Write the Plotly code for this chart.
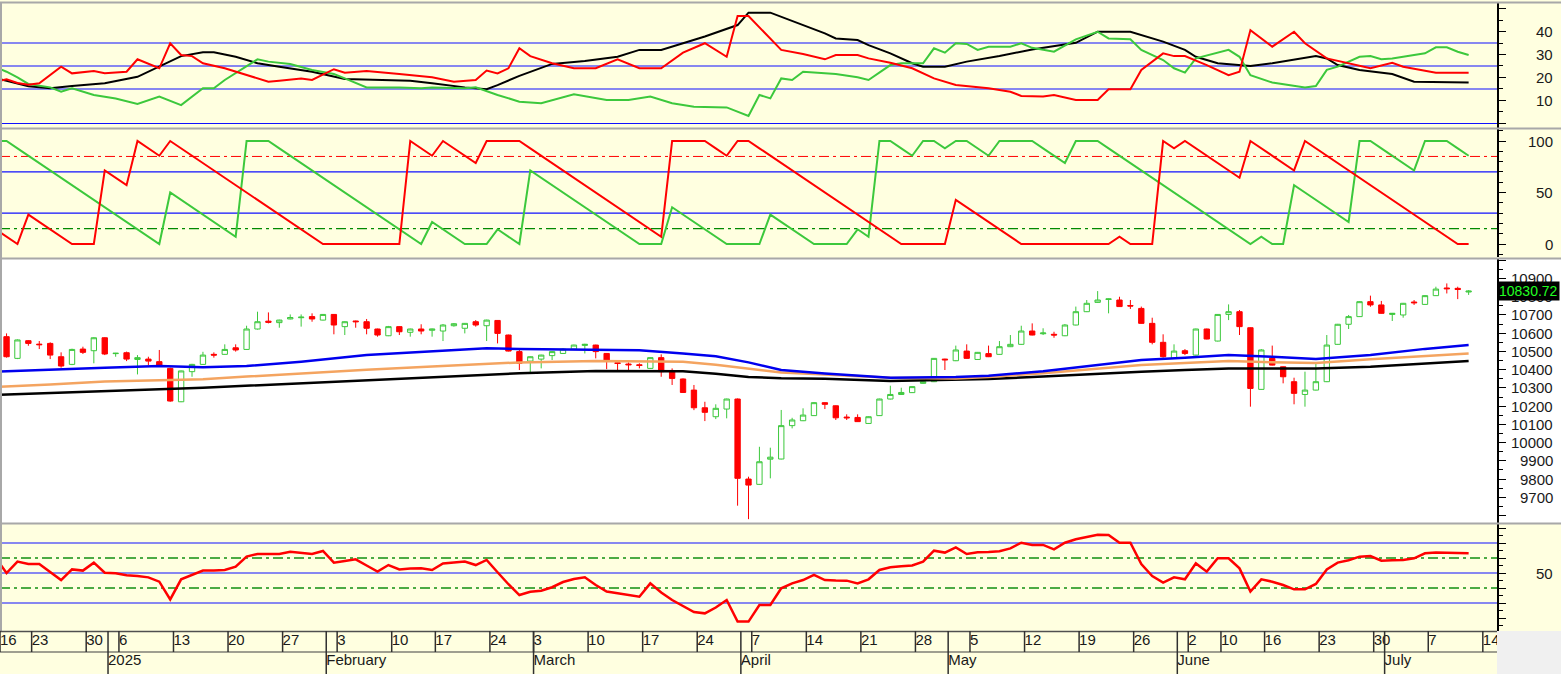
import plotly.graph_objects as go

W, H = 1561, 674
FONT = "Liberation Sans, Arial, sans-serif"

# ---------------- price data (one entry per trading day) ----------------
open_ = [10581, 10462, 10559, 10540, 10544, 10471, 10429, 10513, 10504, 10575,
         10488, 10493, 10456, 10458, 10444, 10407, 10224, 10389, 10429, 10484,
         10484, 10520, 10511, 10623, 10666, 10658, 10678, 10685, 10691, 10672,
         10703, 10636, 10667, 10663, 10623, 10586, 10636, 10605, 10623, 10616,
         10612, 10641, 10627, 10663, 10641, 10670, 10590, 10499, 10447, 10458,
         10477, 10489, 10513, 10533, 10535, 10489, 10438, 10431, 10427, 10407,
         10466, 10393, 10349, 10288, 10191, 10142, 10184, 10239, 9800, 9771,
         9909, 9910, 10093, 10120, 10148, 10219, 10202, 10140, 10138, 10105,
         10148, 10239, 10264, 10274, 10325, 10334, 10458, 10449, 10502, 10456,
         10488, 10484, 10526, 10539, 10612, 10597, 10594, 10586, 10645, 10718,
         10769, 10785, 10782, 10752, 10736, 10654, 10550, 10462, 10504, 10480,
         10623, 10557, 10703, 10718, 10630, 10292, 10462, 10416, 10334, 10264,
         10288, 10334, 10539, 10649, 10691, 10773, 10755, 10703, 10700, 10771,
         10758, 10806, 10848, 10846, 10826]
high_ = [10599, 10566, 10562, 10557, 10550, 10495, 10515, 10526, 10578, 10578,
         10492, 10499, 10480, 10471, 10508, 10411, 10395, 10432, 10498, 10495,
         10539, 10539, 10641, 10718, 10714, 10674, 10703, 10703, 10709, 10705,
         10705, 10665, 10669, 10678, 10625, 10640, 10638, 10625, 10649, 10625,
         10650, 10656, 10656, 10672, 10674, 10672, 10592, 10510, 10473, 10482,
         10501, 10518, 10537, 10542, 10537, 10491, 10440, 10440, 10435, 10468,
         10484, 10407, 10352, 10316, 10224, 10210, 10241, 10242, 9813, 9977,
         9972, 10179, 10136, 10188, 10222, 10221, 10204, 10155, 10155, 10144,
         10241, 10312, 10301, 10309, 10336, 10464, 10460, 10532, 10539, 10497,
         10532, 10557, 10590, 10641, 10654, 10627, 10608, 10650, 10746, 10782,
         10831, 10790, 10800, 10782, 10746, 10685, 10594, 10539, 10513, 10625,
         10625, 10705, 10758, 10727, 10632, 10513, 10532, 10418, 10356, 10389,
         10434, 10590, 10651, 10700, 10775, 10806, 10777, 10711, 10766, 10782,
         10808, 10855, 10873, 10855, 10836]
low_ = [10466, 10458, 10531, 10513, 10458, 10411, 10425, 10486, 10435, 10480,
        10471, 10447, 10374, 10425, 10416, 10224, 10222, 10361, 10427, 10466,
        10482, 10499, 10509, 10620, 10654, 10630, 10676, 10636, 10663, 10670,
        10594, 10590, 10630, 10594, 10581, 10584, 10590, 10581, 10594, 10581,
        10557, 10636, 10599, 10636, 10557, 10544, 10500, 10398, 10385, 10407,
        10453, 10487, 10511, 10489, 10462, 10403, 10398, 10398, 10407, 10405,
        10361, 10316, 10272, 10178, 10118, 10129, 10133, 9654, 9580, 9769,
        9804, 9908, 10078, 10118, 10146, 10184, 10124, 10124, 10113, 10103,
        10146, 10237, 10261, 10272, 10323, 10332, 10398, 10447, 10460, 10454,
        10469, 10482, 10524, 10537, 10588, 10590, 10575, 10584, 10643, 10716,
        10767, 10709, 10744, 10733, 10652, 10539, 10466, 10460, 10480, 10478,
        10566, 10555, 10672, 10590, 10197, 10290, 10423, 10325, 10210, 10197,
        10286, 10332, 10537, 10623, 10689, 10745, 10707, 10667, 10685, 10755,
        10756, 10804, 10818, 10787, 10810]
close_ = [10471, 10563, 10544, 10537, 10480, 10420, 10511, 10495, 10575, 10486,
          10490, 10458, 10466, 10447, 10422, 10228, 10393, 10429, 10480, 10480,
          10511, 10508, 10623, 10663, 10660, 10672, 10686, 10688, 10678, 10703,
          10645, 10663, 10663, 10627, 10590, 10636, 10608, 10623, 10612, 10623,
          10645, 10652, 10654, 10645, 10672, 10599, 10502, 10435, 10471, 10480,
          10499, 10513, 10535, 10539, 10499, 10453, 10434, 10427, 10423, 10466,
          10389, 10352, 10275, 10191, 10166, 10188, 10239, 9804, 9767, 9895,
          9920, 10093, 10124, 10151, 10219, 10210, 10136, 10136, 10115, 10142,
          10239, 10264, 10275, 10307, 10334, 10462, 10454, 10508, 10462, 10495,
          10471, 10526, 10539, 10612, 10590, 10601, 10590, 10645, 10718, 10764,
          10782, 10788, 10746, 10749, 10654, 10550, 10471, 10502, 10489, 10623,
          10568, 10703, 10718, 10636, 10297, 10508, 10425, 10361, 10270, 10288,
          10334, 10535, 10649, 10691, 10773, 10755, 10709, 10709, 10764, 10767,
          10806, 10842, 10844, 10840, 10830.72]
last_price = 10830.72
bars = list(range(len(close_)))

# ---------------- moving averages (read at sample days) ----------------
ma_idx = [-1, 4, 9, 14, 18, 22, 27, 33, 39, 44, 47, 54, 58, 62, 65, 68, 71, 75, 81, 87,
          90, 95, 100, 104, 108, 112, 116, 120, 125, 130, 134]
ma_fast = [10389, 10402, 10411, 10420, 10413, 10420, 10444, 10480, 10499, 10517, 10513,
           10511, 10506, 10489, 10473, 10440, 10398, 10379, 10356, 10360, 10367, 10391,
           10425, 10453, 10466, 10480, 10471, 10458, 10480, 10514, 10535]
ma_mid = [10306, 10318, 10335, 10342, 10347, 10362, 10381, 10400, 10418, 10432, 10440,
          10447, 10446, 10444, 10427, 10408, 10385, 10373, 10356, 10352, 10360, 10381,
          10405, 10425, 10436, 10447, 10441, 10436, 10457, 10475, 10489]
ma_slow = [10261, 10270, 10280, 10292, 10301, 10312, 10326, 10345, 10362, 10372, 10380,
           10393, 10393, 10392, 10378, 10360, 10353, 10350, 10338, 10345, 10349, 10362,
           10378, 10389, 10398, 10407, 10407, 10407, 10416, 10432, 10447]

# ---------------- DMI (day, value) ----------------
adx_pts = [(-1, 19.6), (0, 18.6), (2, 16.2), (4, 15.3), (6, 16.3), (9, 17.5), (12, 20.3), (14, 24.7),
           (16, 29.3), (18, 31), (19, 31), (21, 29), (23, 26.2), (25, 24.7), (28, 22.5), (31, 19.3),
           (35, 18.9), (37, 18.6), (39, 17.5), (42, 15.7), (44, 14.9), (45, 16.7), (47, 20.7),
           (50, 25.9), (53, 27.2), (56, 29), (58, 32), (60, 32), (62, 34.9), (64, 37.8), (67, 42.8),
           (68, 48.2), (70, 48.2), (72, 44.7), (75, 39.2), (76, 37), (78, 36.3), (79, 34.1),
           (81, 30.5), (83, 26.2), (84, 24.7), (86, 24.7), (88, 26.9), (91, 29.3), (94, 32.2),
           (98, 35.1), (100, 39.9), (103, 39.9), (104, 38.5), (106, 35.6), (108, 32), (109, 29),
           (111, 26.2), (113, 25.4), (114, 25), (116, 26.2), (118, 27.6), (120, 29.3), (121, 28.3),
           (122, 25.4), (124, 23.3), (127, 21.5), (129, 18.2), (134, 17.8)]
mdi_pts = [(-1, 18.2), (0, 19.2), (1, 17.6), (2, 16.8), (3, 17.5), (5, 24.7), (6, 21.8), (8, 22.8),
           (9, 21.8), (11, 22.5), (12, 27.9), (14, 24), (15, 34.9), (16, 29.8), (17, 29.3), (18, 26.2),
           (20, 24), (24, 18.2), (25, 18.6), (27, 19.6), (28, 18.9), (30, 23.6), (31, 22.1),
           (33, 22.8), (36, 21.5), (39, 20.1), (41, 18.2), (43, 18.9), (44, 23), (45, 21.8), (46, 24),
           (47, 32.7), (48, 29.3), (50, 26.2), (52, 24), (54, 24), (56, 27.9), (58, 24), (60, 24),
           (62, 30.8), (64, 34.9), (66, 29), (67, 46.7), (68, 46.7), (71, 32), (73, 30.2), (75, 27.9),
           (76, 29.8), (78, 29.8), (79, 28.3), (81, 26.4), (83, 24), (85, 19.6), (87, 16.7),
           (90, 15.3), (92, 13.8), (93, 12), (95, 11.7), (96, 12.4), (98, 10.2), (100, 10.2),
           (101, 14.9), (103, 14.9), (104, 23.3), (106, 30.5), (107, 29.3), (108, 29.3), (110, 25.4),
           (112, 21), (113, 22.5), (114, 40.6), (116, 33.4), (118, 39.9), (119, 34.9), (121, 28.3),
           (123, 26.2), (125, 24), (127, 26.4), (128, 24.7), (131, 22.1), (134, 22.1)]
pdi_pts = [(-1, 24.5), (0, 22.5), (1, 20), (2, 17.2), (4, 15.7), (5, 13.8), (6, 15.3), (8, 12.4),
           (10, 10.9), (12, 8.5), (14, 11.7), (16, 8), (18, 15.3), (19, 15.3), (20, 18.9), (21, 21.8),
           (23, 27.9), (24, 26.9), (26, 25.9), (28, 23.3), (30, 21.5), (31, 19.6), (33, 15.7),
           (36, 15.7), (38, 15.3), (39, 15.7), (42, 15.3), (43, 15.7), (45, 12.4), (47, 9.5),
           (49, 8.8), (52, 12.7), (55, 10.2), (57, 10.2), (59, 11.7), (61, 8.8), (63, 7.3), (66, 7),
           (68, 3.3), (69, 12.4), (70, 10.9), (71, 19.6), (72, 18.9), (73, 22.5), (76, 21.5),
           (78, 20.1), (79, 18.9), (81, 25.4), (82, 26.2), (84, 26.2), (85, 32.7), (86, 30.8),
           (87, 34.9), (88, 34.6), (89, 32), (90, 33.4), (92, 33.4), (93, 34.9), (94, 32.9),
           (96, 31.2), (98, 36.6), (100, 39.9), (101, 37), (103, 36.6), (104, 32), (106, 27.6),
           (107, 24), (108, 22.1), (109, 28.3), (112, 32), (113, 29), (114, 21), (116, 17.8),
           (119, 15.7), (120, 16.3), (121, 23.3), (122, 24.7), (124, 29), (125, 29.3), (126, 27.9),
           (127, 28.3), (129, 29.8), (130, 30.5), (131, 33.1), (132, 33.1), (133, 31.2), (134, 29.8)]

# ---------------- Aroon (first value is the day before the first candle) ----------------
aroon_down = [14.3,
              7.1, 0, 28.6, 21.4, 14.3, 7.1, 0, 0, 0, 71.4,
              64.3, 57.1, 100, 92.9, 85.7, 100, 92.9, 85.7, 78.6, 71.4,
              64.3, 57.1, 50, 42.9, 35.7, 28.6, 21.4, 14.3, 7.1, 0,
              0, 0, 0, 0, 0, 0, 0, 100, 92.9, 85.7,
              100, 92.9, 85.7, 78.6, 100, 100, 100, 100, 92.9, 85.7,
              78.6, 71.4, 64.3, 57.1, 50, 42.9, 35.7, 28.6, 21.4, 14.3,
              7.1, 100, 100, 100, 100, 92.9, 85.7, 100, 100, 92.9,
              85.7, 78.6, 71.4, 64.3, 57.1, 50, 42.9, 35.7, 28.6, 21.4,
              14.3, 7.1, 0, 0, 0, 0, 0, 42.9, 35.7, 28.6,
              21.4, 14.3, 7.1, 0, 0, 0, 0, 0, 0, 0,
              0, 0, 7.1, 0, 0, 0, 100, 92.9, 100, 92.9,
              85.7, 78.6, 71.4, 64.3, 100, 92.9, 85.7, 78.6, 71.4, 100,
              92.9, 85.7, 78.6, 71.4, 64.3, 57.1, 50, 42.9, 35.7, 28.6,
              21.4, 14.3, 7.1, 0, 0]
aroon_up = [100,
            100, 92.9, 85.7, 78.6, 71.4, 64.3, 57.1, 50, 42.9, 35.7,
            28.6, 21.4, 14.3, 7.1, 0, 50, 42.9, 35.7, 28.6, 21.4,
            14.3, 7.1, 100, 100, 100, 92.9, 85.7, 78.6, 71.4, 64.3,
            57.1, 50, 42.9, 35.7, 28.6, 21.4, 14.3, 7.1, 0, 21.4,
            14.3, 7.1, 0, 0, 0, 14.3, 7.1, 0, 71.4, 64.3,
            57.1, 50, 42.9, 35.7, 28.6, 21.4, 14.3, 7.1, 0, 0,
            0, 35.7, 28.6, 21.4, 14.3, 7.1, 0, 0, 0, 0,
            28.6, 21.4, 14.3, 7.1, 0, 0, 0, 0, 14.3, 7.1,
            100, 100, 92.9, 85.7, 100, 100, 92.9, 100, 100, 92.9,
            85.7, 100, 100, 100, 100, 92.9, 85.7, 78.6, 100, 100,
            100, 92.9, 85.7, 78.6, 71.4, 64.3, 57.1, 50, 42.9, 35.7,
            28.6, 21.4, 14.3, 7.1, 0, 7.1, 0, 0, 57.1, 50,
            42.9, 35.7, 28.6, 21.4, 100, 100, 92.9, 85.7, 78.6, 71.4,
            100, 100, 100, 92.9, 85.7]

# ---------------- RSI (first value is the day before the first candle) ----------------
rsi_vals = [60, 50, 57.6, 56, 56, 50.9, 45.3, 52.4, 51.6, 56.9,
            50.2, 49.8, 48.5, 48, 47.1, 44.2, 32.4, 45.8, 48.5, 51.6,
            51.6, 52, 54.2, 60.9, 62.7, 62.7, 62.7, 64.2, 63.5, 62.7,
            64.7, 56.9, 58, 59.1, 55, 50.9, 55.3, 52.4, 53, 53.1,
            52, 56.4, 57, 57.6, 55.3, 58.7, 50.5, 42.5, 35.3, 37.5,
            38.2, 40.5, 44, 46, 47.1, 42, 37.6, 36.5, 35.5, 34.2,
            43.1, 37, 32, 28, 24, 23.1, 27, 32, 17.6, 17.6,
            28.7, 28.7, 39.8, 43.1, 45.3, 48.7, 45.3, 45, 44.9, 43.1,
            45.8, 52, 53.8, 54.5, 55, 57.6, 64.9, 63.6, 67.1, 62.7,
            63.8, 64, 64.5, 66.4, 70.2, 68.7, 68.7, 65.8, 70.2, 72.5,
            74.2, 75.5, 75.3, 70.2, 70.2, 56, 48, 43.6, 47.1, 45.8,
            56.4, 50.9, 59.8, 59.8, 53.1, 37.6, 45.8, 44.2, 42, 39.1,
            39.1, 42.7, 52.4, 56.9, 58.5, 60.9, 61.3, 58.2, 58.5, 58.7,
            59.8, 63.1, 63.6, 63.3, 63.1, 63.1]

# ---------------- axis labels ----------------
week_idx = [-1, 2, 7, 10, 15, 20, 25, 30, 35, 39, 44, 48, 53, 58, 63, 68, 73, 78, 83, 88,
            93, 98, 103, 108, 111, 115, 120, 125, 130, 135]
week_lbl = ["16", "23", "30", "6", "13", "20", "27", "3", "10", "17", "24", "3", "10", "17",
            "24", "7", "14", "21", "28", "5", "12", "19", "26", "2", "10", "16", "23", "30",
            "7", "14"]
month_idx = [9, 29, 48, 67, 86, 107, 126]
month_lbl = ["2025", "February", "March", "April", "May", "June", "July"]

dmi_ticks = [10, 20, 30, 40]
aroon_ticks = [0, 50, 100]
price_ticks = [9700, 9800, 9900, 10000, 10100, 10200, 10300, 10400, 10500, 10600, 10700, 10800, 10900]
rsi_ticks = [50]

# ---------------- geometry ----------------
def py(y):
    return 1 - y / H

X0, X1 = -0.6, 136.6
XDOM = 1497 / W
YELLOW = "#ffffe0"
GREEN = "#3cc83c"
RED = "#ff0000"
BLUE = "#1010ff"

fig = go.Figure()

# candles + moving averages
fig.add_trace(go.Candlestick(
    x=bars, open=open_, high=high_, low=low_, close=close_, xaxis="x", yaxis="y3",
    increasing=dict(line=dict(color=GREEN, width=1), fillcolor="#ffffff"),
    decreasing=dict(line=dict(color=RED, width=1), fillcolor=RED),
    whiskerwidth=0, hoverinfo="skip", showlegend=False))
for vals, col in [(ma_slow, "#000000"), (ma_mid, "#f4a460"), (ma_fast, "#0000ee")]:
    fig.add_trace(go.Scatter(x=ma_idx, y=vals, mode="lines", xaxis="x", yaxis="y3",
                             line=dict(color=col, width=2.5), hoverinfo="skip"))

# DMI
for pts, col in [(adx_pts, "#000000"), (pdi_pts, GREEN), (mdi_pts, RED)]:
    fig.add_trace(go.Scatter(x=[p[0] for p in pts], y=[p[1] for p in pts], mode="lines",
                             xaxis="x", yaxis="y", line=dict(color=col, width=2), hoverinfo="skip"))

# Aroon
aroon_x = list(range(-1, len(aroon_up) - 1))
fig.add_trace(go.Scatter(x=aroon_x, y=aroon_up, mode="lines", xaxis="x", yaxis="y2",
                         line=dict(color=GREEN, width=2), hoverinfo="skip"))
fig.add_trace(go.Scatter(x=aroon_x, y=aroon_down, mode="lines", xaxis="x", yaxis="y2",
                         line=dict(color=RED, width=2), hoverinfo="skip"))

# RSI
rsi_x = list(range(-1, len(rsi_vals) - 1))
fig.add_trace(go.Scatter(x=rsi_x, y=rsi_vals, mode="lines", xaxis="x", yaxis="y4",
                         line=dict(color=RED, width=2.5), hoverinfo="skip"))

# date labels (text traces, clipped by the plot area)
OFF = 0.3
wk_x = [max(i + OFF, X0) for i in week_idx]
fig.add_trace(go.Scatter(x=wk_x, y=[32.5] * len(wk_x), mode="text", text=week_lbl,
                         textposition="middle right", xaxis="x", yaxis="y5", cliponaxis=True,
                         textfont=dict(family=FONT, size=15, color="#1a1a1a"), hoverinfo="skip"))
mo_x = [i + OFF for i in month_idx]
fig.add_trace(go.Scatter(x=mo_x, y=[12.5] * len(mo_x), mode="text", text=month_lbl,
                         textposition="middle right", xaxis="x", yaxis="y5", cliponaxis=True,
                         textfont=dict(family=FONT, size=15, color="#1a1a1a"), hoverinfo="skip"))

shapes = []
# backgrounds
shapes.append(dict(type="rect", xref="paper", yref="paper", x0=0, x1=1, y0=py(523), y1=py(259),
                   fillcolor="#ffffff", line=dict(width=0), layer="below"))
shapes.append(dict(type="rect", xref="paper", yref="paper", x0=XDOM, x1=1, y0=0, y1=py(631),
                   fillcolor="#f0f0f0", line=dict(width=0), layer="below"))

# indicator reference lines
def hline(yref, v, color, dash="solid", width=1.2):
    shapes.append(dict(type="line", xref="x", yref=yref, x0=X0, x1=X1, y0=v, y1=v,
                       line=dict(color=color, width=width, dash=dash), layer="below"))

for v in [35, 25, 15, 0]:
    hline("y", v, BLUE)
hline("y2", 85, RED, "10px,4px,3px,4px", 1)
hline("y2", 70, BLUE)
hline("y2", 30, BLUE)
hline("y2", 15, "#008a00", "10px,4px,3px,4px", 1.2)
for v in [70, 50, 30]:
    hline("y4", v, BLUE)
hline("y4", 60, "#109010", "10px,4px,3px,4px", 1.5)
hline("y4", 40, "#109010", "10px,4px,3px,4px", 1.5)

# panel separators
for yy in [2.5, 128.5, 258.5, 523.5]:
    shapes.append(dict(type="line", xref="paper", yref="paper", x0=0, x1=1, y0=py(yy), y1=py(yy),
                       line=dict(color="#a8a8a8", width=2), layer="above"))
shapes.append(dict(type="line", xref="paper", yref="paper", x0=1 / W, x1=1 / W, y0=py(631), y1=py(2),
                   line=dict(color="#a8a8a8", width=2), layer="above"))
shapes.append(dict(type="line", xref="paper", yref="paper", x0=0, x1=XDOM, y0=py(631.5), y1=py(631.5),
                   line=dict(color="#505050", width=1.5), layer="above"))

# date axis grid
shapes.append(dict(type="line", xref="x", yref="y5", x0=X0, x1=X1, y0=22, y1=22,
                   line=dict(color="#404040", width=1.2)))
for x in wk_x:
    shapes.append(dict(type="line", xref="x", yref="y5", x0=x, x1=x, y0=22, y1=43,
                       line=dict(color="#303030", width=1.5)))
for x in mo_x:
    shapes.append(dict(type="line", xref="x", yref="y5", x0=x, x1=x, y0=0, y1=43,
                       line=dict(color="#303030", width=1.5)))

# right-hand tick labels
annotations = []
def tick_labels(yref, vals):
    for v in vals:
        annotations.append(dict(xref="paper", yref=yref, x=1555 / W, y=v, text=str(v),
                                xanchor="right", yanchor="middle", showarrow=False,
                                font=dict(family=FONT, size=15, color="#1a1a1a")))

tick_labels("y", dmi_ticks)
tick_labels("y2", aroon_ticks)
tick_labels("y3", price_ticks)
tick_labels("y4", rsi_ticks)
annotations.append(dict(xref="paper", yref="y3", x=1560 / W, y=last_price, text=f"{last_price:.2f}",
                        xanchor="right", yanchor="middle", showarrow=False, bgcolor="#000000",
                        borderpad=1, font=dict(family=FONT, size=14, color="#22ff22")))

def yax(dom, rng, dtick, mdtick, tick0=0):
    return dict(domain=dom, range=rng, side="right", anchor="x", showline=True,
                linecolor="#000000", linewidth=1.5, ticks="outside", ticklen=7,
                tickcolor="#000000", tickwidth=1, showticklabels=False, showgrid=False,
                zeroline=False, tickmode="linear", tick0=tick0, dtick=dtick, fixedrange=True,
                minor=dict(dtick=mdtick, ticklen=4, tickcolor="#000000", ticks="outside",
                           showgrid=False))

fig.update_layout(
    width=W, height=H, margin=dict(l=0, r=0, t=0, b=0),
    paper_bgcolor=YELLOW, plot_bgcolor="rgba(0,0,0,0)",
    showlegend=False, hovermode=False,
    font=dict(family=FONT),
    xaxis=dict(domain=[0, XDOM], range=[X0, X1], visible=False, anchor="y5",
               rangeslider=dict(visible=False), fixedrange=True),
    yaxis=yax([py(128), py(3)], [-1.96, 52.39], 10, 5),
    yaxis2=yax([py(257), py(129)], [-12.6, 111.65], 50, 10),
    yaxis3=yax([py(523), py(259)], [9559, 11007], 100, 50),
    yaxis4=yax([py(631), py(524)], [11.33, 82.67], 10, 5),
    yaxis5=dict(domain=[0, py(631)], range=[0, 43], visible=False, anchor="x", fixedrange=True),
    shapes=shapes, annotations=annotations,
)

fig.write_html(
    "out.html",
    config={"displayModeBar": False, "staticPlot": True},
    post_script="document.body.style.margin='0';document.body.style.padding='0';"
                "document.body.style.overflow='hidden';",
)
